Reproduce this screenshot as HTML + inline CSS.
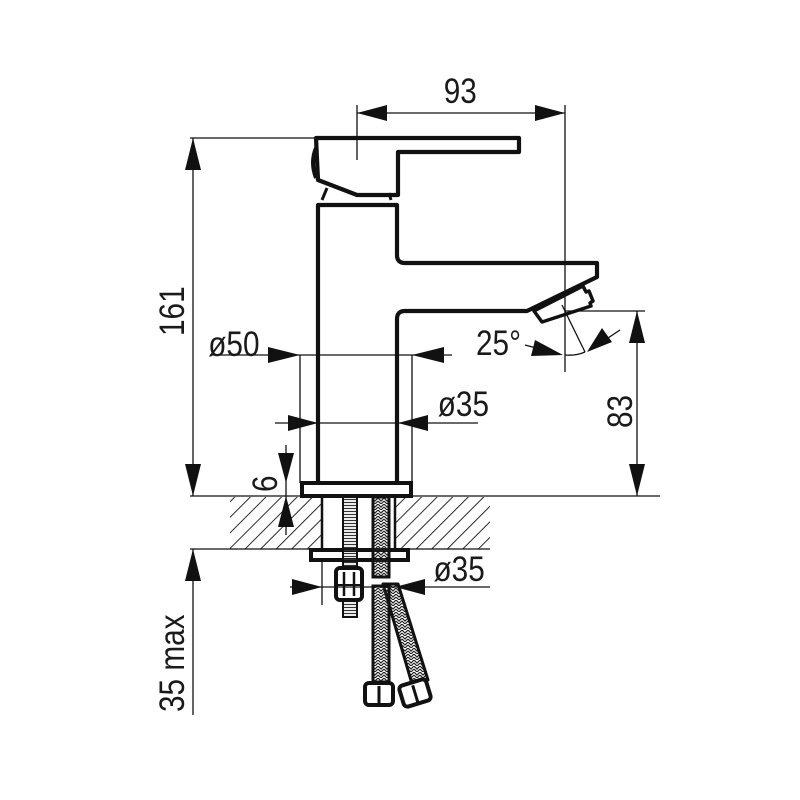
<!DOCTYPE html>
<html><head><style>html,body{margin:0;padding:0;background:#fff}svg{display:block}text{font-family:"Liberation Sans",sans-serif;font-size:35px;fill:#1a1a1a}</style></head>
<body>
<svg width="800" height="800" viewBox="0 0 800 800" xmlns="http://www.w3.org/2000/svg">
<defs>
<pattern id="h" width="11" height="11" patternUnits="userSpaceOnUse" patternTransform="rotate(45)">
<line x1="0" y1="0" x2="0" y2="11" stroke="#111" stroke-width="1.8"/>
</pattern>
<pattern id="br" width="6" height="6" patternUnits="userSpaceOnUse">
<path d="M0 0 L3 3 L6 0 M0 3 L3 6 L6 3" stroke="#222" stroke-width="1.2" fill="none"/>
</pattern>
<pattern id="th" width="4" height="3" patternUnits="userSpaceOnUse">
<line x1="0" y1="1.5" x2="4" y2="1.5" stroke="#333" stroke-width="1.2"/>
</pattern>
</defs>
<g stroke="#111" fill="none">
<rect x="230" y="497" width="92" height="52" fill="url(#h)" stroke="none"/>
<rect x="395" y="497" width="95" height="52" fill="url(#h)" stroke="none"/>
<line x1="322" y1="497" x2="322" y2="549" stroke-width="2.5"/>
<line x1="395" y1="497" x2="395" y2="549" stroke-width="2.5"/>
<line x1="190" y1="496" x2="660" y2="496" stroke-width="1.3"/>
<line x1="190" y1="549" x2="490" y2="549" stroke-width="1.3"/>

<path d="M316 138 H519 V152 H398 V195 H357 L318 180 Z" stroke-width="4.2" stroke-linejoin="round"/>
<path d="M316 148 Q310 162 316 178" stroke-width="4"/>
<path d="M322 200 L327 188 M391 200 L389 193" stroke-width="3"/>
<path d="M318 483 V205 H397 V255 Q397 263 405 263 H597 V277 L527 311 H405 Q397 311 397 319 V483" stroke-width="4.2" stroke-linejoin="round"/>
<path d="M534 311 L583 286 L586 292 L589 291 L593 301 L590 303 L591 306 L542 322 Z" stroke-width="3.5" stroke-linejoin="round"/>
<rect x="302" y="483" width="109" height="13" stroke-width="4"/>
<rect x="311" y="550" width="97" height="10" stroke-width="4"/>

<rect x="343" y="497" width="14" height="120" fill="url(#th)" stroke-width="2"/>
<rect x="336" y="568" width="26" height="32" rx="4" fill="#fff" stroke-width="4"/>
<line x1="344" y1="572" x2="344" y2="596" stroke-width="2.5"/><line x1="354" y1="572" x2="354" y2="596" stroke-width="2.5"/>
<line x1="336" y1="585" x2="362" y2="585" stroke-width="2"/>
<rect x="373" y="497" width="16" height="80" fill="url(#br)" stroke-width="3"/>
<path d="M383 584 L398 584 L428 680 L412 684 Z" fill="url(#br)" stroke-width="3" stroke-linejoin="round"/>
<rect x="373" y="586" width="16" height="96" fill="url(#br)" stroke-width="3"/>
<rect x="365" y="683" width="28" height="22" rx="4" fill="#fff" stroke-width="4"/>
<line x1="379" y1="686" x2="379" y2="704" stroke-width="3"/>
<g transform="rotate(-17 415 693)"><rect x="401" y="682" width="28" height="22" rx="4" fill="#fff" stroke-width="4"/><line x1="415" y1="685" x2="415" y2="703" stroke-width="3"/></g>
</g>

<g stroke="#111" stroke-width="1.3" fill="none">
<line x1="357" y1="105" x2="357" y2="160"/>
<line x1="565" y1="105" x2="565" y2="372"/>
<line x1="357" y1="113" x2="565" y2="113"/>
<line x1="190" y1="138" x2="316" y2="138"/>
<line x1="193" y1="138" x2="193" y2="496"/>
<line x1="210" y1="355" x2="452" y2="355"/>
<line x1="300" y1="355" x2="300" y2="483"/>
<line x1="412" y1="355" x2="412" y2="483"/>
<line x1="275" y1="423" x2="478" y2="423"/>
<line x1="286" y1="445" x2="286" y2="535"/>
<line x1="565" y1="311" x2="645" y2="311"/>
<line x1="637" y1="311" x2="637" y2="496"/>
<line x1="193" y1="549" x2="193" y2="715"/>
<line x1="290" y1="587" x2="490" y2="587"/>
<line x1="322" y1="560" x2="322" y2="605"/>
<line x1="562" y1="305" x2="585" y2="352"/>
<path d="M565 355 Q576 356 585 352"/>
<line x1="525" y1="345" x2="540" y2="349"/>
<line x1="620" y1="330" x2="605" y2="340"/>
</g>
<g fill="#111">
<polygon points="357,113 387,105 387,121"/>
<polygon points="565,113 535,105 535,121"/>
<polygon points="193,138 185,170 201,170"/>
<polygon points="193,496 185,464 201,464"/>
<polygon points="300,355 268,347 268,363"/>
<polygon points="412,355 444,347 444,363"/>
<polygon points="318,423 288,415 288,431"/>
<polygon points="398,423 428,415 428,431"/>
<polygon points="286,483 278,453 294,453"/>
<polygon points="286,496 278,527 294,527"/>
<polygon points="637,311 629,343 645,343"/>
<polygon points="637,496 629,464 645,464"/>
<polygon points="193,549 185,581 201,581"/>
<polygon points="322,587 292,579 292,595"/>
<polygon points="395,587 425,579 425,595"/>
<polygon points="563,355 535,340 531,356"/>
<polygon points="587,352 602,328 612,342"/>
</g>
<g transform="scale(0.85 1)">
<text x="522" y="103">93</text>
<text x="245" y="356">ø50</text>
<text x="515" y="416">ø35</text>
<text x="560" y="355">25°</text>
<text x="510" y="581">ø35</text>
</g>
<text transform="translate(184 336) rotate(-90) scale(0.85 1)">161</text>
<text transform="translate(632 428) rotate(-90) scale(0.85 1)">83</text>
<text transform="translate(277 492) rotate(-90) scale(0.85 1)">6</text>
<text transform="translate(184 712) rotate(-90) scale(0.85 1)">35 max</text>
</svg>
</body></html>
